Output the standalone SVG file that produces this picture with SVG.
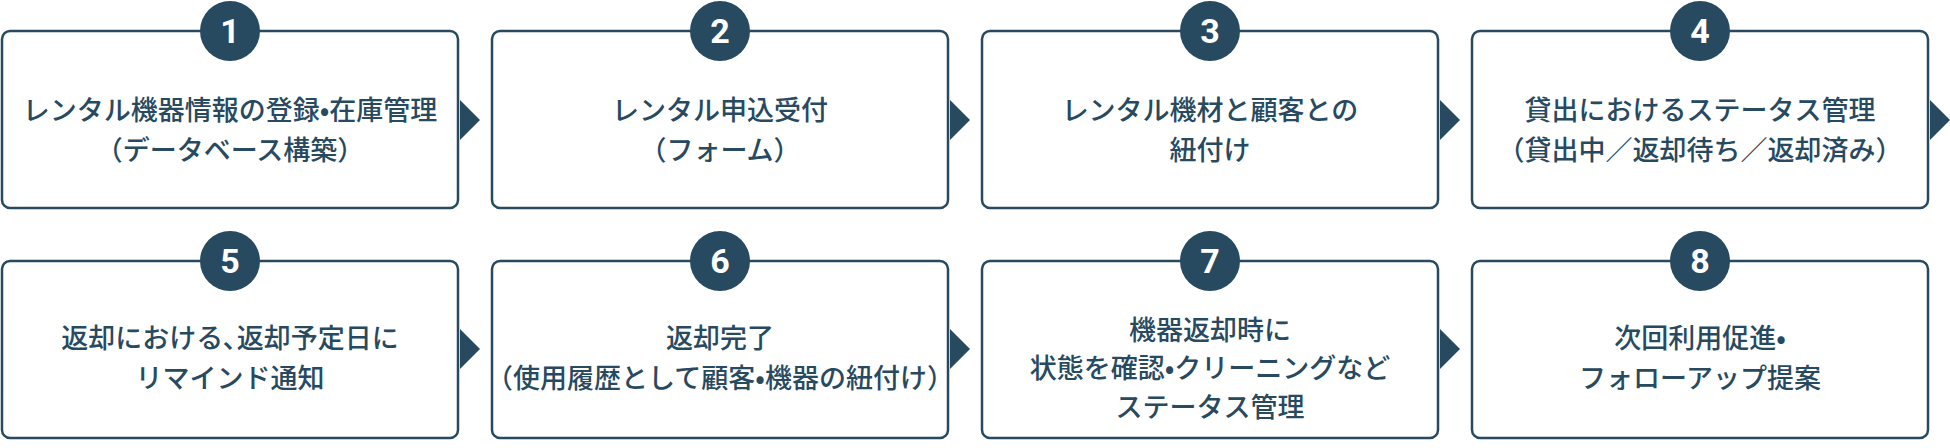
<svg xmlns="http://www.w3.org/2000/svg" width="1950" height="448" viewBox="0 0 1950 448">
<style>
.box{fill:#fff;stroke:#284a61;stroke-width:2.5}
.c{fill:#284a61}
.n{fill:#fff;font-family:"Roboto","Liberation Sans",sans-serif;font-weight:bold;font-size:34px;text-anchor:middle}
.t{fill:#284a61;font-family:"Noto Sans CJK JP",sans-serif;font-weight:500;font-size:27px;text-anchor:middle}
.a{fill:#284a61}
</style>
<g id="connectors">
<polygon class="a" points="460,100 480,120 460,140"/>
<polygon class="a" points="950,100 970,120 950,140"/>
<polygon class="a" points="1440,100 1460,120 1440,140"/>
<polygon class="a" points="1930,100 1950,120 1930,140"/>
<polygon class="a" points="460,329 480,349 460,369"/>
<polygon class="a" points="950,329 970,349 950,369"/>
<polygon class="a" points="1440,329 1460,349 1440,369"/>
</g>
<g id="n1"><rect class="box" x="2" y="31" width="456" height="177" rx="8"/><circle class="c" cx="230" cy="31" r="30"/><text class="n" x="230" y="43">1</text>
<text class="t" x="230" y="120">レンタル機器情報の登録•在庫管理</text><text class="t" x="230" y="160">（データベース構築）</text></g>
<g id="n2"><rect class="box" x="492" y="31" width="456" height="177" rx="8"/><circle class="c" cx="720" cy="31" r="30"/><text class="n" x="720" y="43">2</text>
<text class="t" x="720" y="120">レンタル申込受付</text><text class="t" x="720" y="160">（フォーム）</text></g>
<g id="n3"><rect class="box" x="982" y="31" width="456" height="177" rx="8"/><circle class="c" cx="1210" cy="31" r="30"/><text class="n" x="1210" y="43">3</text>
<text class="t" x="1210" y="120">レンタル機材と顧客との</text><text class="t" x="1210" y="160">紐付け</text></g>
<g id="n4"><rect class="box" x="1472" y="31" width="456" height="177" rx="8"/><circle class="c" cx="1700" cy="31" r="30"/><text class="n" x="1700" y="43">4</text>
<text class="t" x="1700" y="120">貸出におけるステータス管理</text><text class="t" x="1700" y="160">（貸出中／返却待ち／返却済み）</text></g>
<g id="n5"><rect class="box" x="2" y="261" width="456" height="177" rx="8"/><circle class="c" cx="230" cy="261" r="30"/><text class="n" x="230" y="273">5</text>
<text class="t" x="230" y="348">返却における､返却予定日に</text><text class="t" x="230" y="388">リマインド通知</text></g>
<g id="n6"><rect class="box" x="492" y="261" width="456" height="177" rx="8"/><circle class="c" cx="720" cy="261" r="30"/><text class="n" x="720" y="273">6</text>
<text class="t" x="720" y="348">返却完了</text><text class="t" x="720" y="388">（使用履歴として顧客•機器の紐付け）</text></g>
<g id="n7"><rect class="box" x="982" y="261" width="456" height="177" rx="8"/><circle class="c" cx="1210" cy="261" r="30"/><text class="n" x="1210" y="273">7</text>
<text class="t" x="1210" y="340">機器返却時に</text><text class="t" x="1210" y="378">状態を確認•クリーニングなど</text><text class="t" x="1210" y="417">ステータス管理</text></g>
<g id="n8"><rect class="box" x="1472" y="261" width="456" height="177" rx="8"/><circle class="c" cx="1700" cy="261" r="30"/><text class="n" x="1700" y="273">8</text>
<text class="t" x="1700" y="348">次回利用促進•</text><text class="t" x="1700" y="388">フォローアップ提案</text></g>
</svg>
